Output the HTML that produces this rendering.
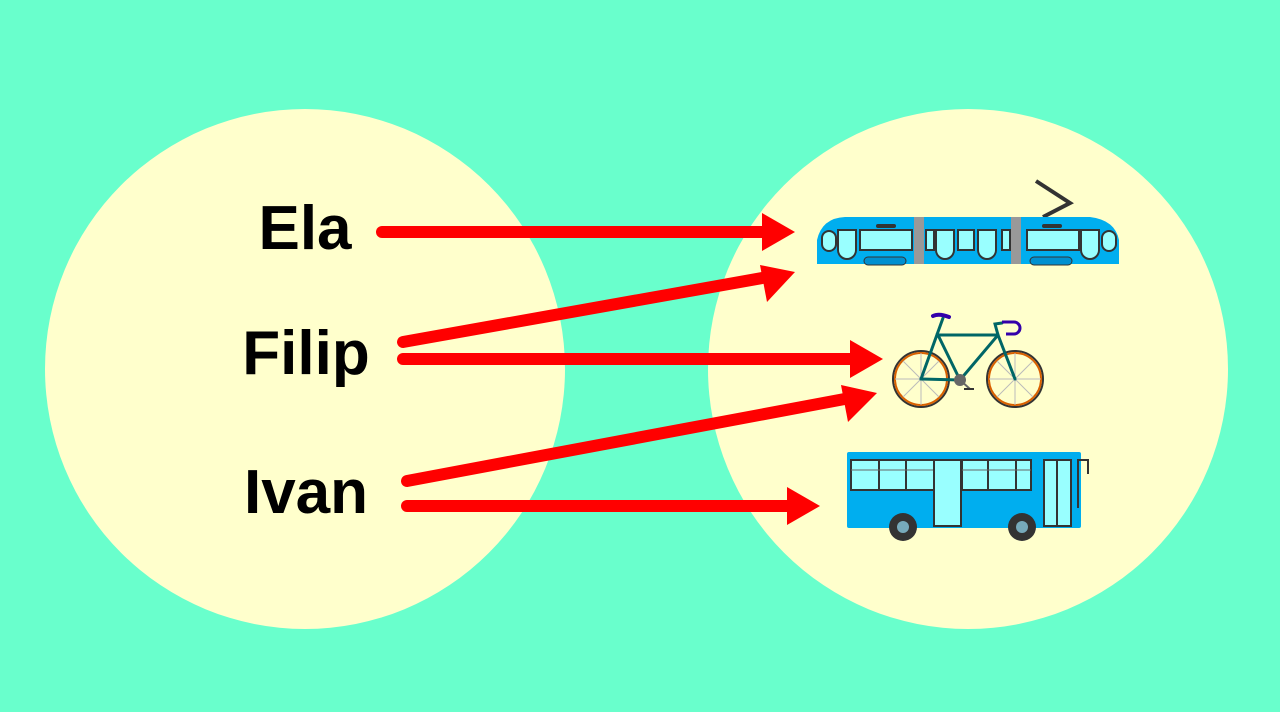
<!DOCTYPE html>
<html><head><style>body{margin:0;background:#69ffcc}svg{display:block}</style></head><body>
<svg width="1280" height="712" viewBox="0 0 1280 712" xmlns="http://www.w3.org/2000/svg">
<rect width="1280" height="712" fill="#69ffcc"/>
<circle cx="305" cy="369" r="260" fill="#ffffcc"/>
<circle cx="968" cy="369" r="260" fill="#ffffcc"/>
<g font-family="'Liberation Sans',sans-serif" font-weight="bold" font-size="62" fill="#000" text-anchor="middle">
<text x="305" y="249">Ela</text>
<text x="306" y="374">Filip</text>
<text x="306" y="513">Ivan</text>
</g>
<g stroke="#ff0000" stroke-width="12" stroke-linecap="round">
<line x1="382" y1="232" x2="768" y2="232"/>
<line x1="403" y1="342" x2="768" y2="277"/>
<line x1="403" y1="359" x2="856" y2="359"/>
<line x1="407" y1="481" x2="850" y2="398"/>
<line x1="407" y1="506" x2="792" y2="506"/>
</g>
<g fill="#ff0000">
<polygon points="795,232 762,213 762,251"/>
<polygon points="795,272 760,265 767,302"/>
<polygon points="883,359 850,340 850,378"/>
<polygon points="877,393 841,385 848,422"/>
<polygon points="820,506 787,487 787,525"/>
</g>
<!-- tram -->
<g>
<polyline points="1036,181 1070,203 1043,217" fill="none" stroke="#333" stroke-width="4"/>
<path d="M817,264 L817,240 Q822,218 845,217 L1090,217 Q1115,220 1119,240 L1119,264 Z" fill="#00aeef"/>
<g fill="#99ffff" stroke="#333" stroke-width="2">
<rect x="822" y="231" width="14" height="20" rx="7"/>
<path d="M838,230 h18 v20 a9,9 0 0 1 -18,0 z"/>
<rect x="860" y="230" width="52" height="20"/>
<rect x="926" y="230" width="8" height="20"/>
<path d="M936,230 h18 v20 a9,9 0 0 1 -18,0 z"/>
<rect x="958" y="230" width="16" height="20"/>
<path d="M978,230 h18 v20 a9,9 0 0 1 -18,0 z"/>
<rect x="1002" y="230" width="8" height="20"/>
<rect x="1027" y="230" width="52" height="20"/>
<path d="M1081,230 h18 v20 a9,9 0 0 1 -18,0 z"/>
<rect x="1102" y="231" width="14" height="20" rx="7"/>
</g>
<rect x="914" y="217" width="10" height="47" fill="#999"/>
<rect x="1011" y="217" width="10" height="47" fill="#999"/>
<rect x="876" y="224" width="20" height="4" rx="2" fill="#333"/>
<rect x="1042" y="224" width="20" height="4" rx="2" fill="#333"/>
<rect x="864" y="257" width="42" height="8" rx="4" fill="#0090d0" stroke="#333" stroke-width="1"/>
<rect x="1030" y="257" width="42" height="8" rx="4" fill="#0090d0" stroke="#333" stroke-width="1"/>
</g>
<!-- bike -->
<g>
<circle cx="921" cy="379" r="28" fill="none" stroke="#333" stroke-width="2"/>
<circle cx="921" cy="379" r="26" fill="none" stroke="#d86000" stroke-width="2"/>
<circle cx="1015" cy="379" r="28" fill="none" stroke="#333" stroke-width="2"/>
<circle cx="1015" cy="379" r="26" fill="none" stroke="#d86000" stroke-width="2"/>
<g stroke="#bbb" stroke-width="1">
<line x1="921" y1="353" x2="921" y2="405"/><line x1="895" y1="379" x2="947" y2="379"/>
<line x1="903" y1="361" x2="939" y2="397"/><line x1="939" y1="361" x2="903" y2="397"/>
<line x1="1015" y1="353" x2="1015" y2="405"/><line x1="989" y1="379" x2="1041" y2="379"/>
<line x1="997" y1="361" x2="1033" y2="397"/><line x1="1033" y1="361" x2="997" y2="397"/>
</g>
<g stroke="#006666" stroke-width="3" fill="none" stroke-linecap="round">
<polyline points="921,379 943,318"/>
<polyline points="921,379 960,380 998,335 1015,379"/>
<polyline points="960,380 938,335 998,335"/>
<polyline points="998,335 995,324 1002,323"/>
</g>
<path d="M1002,322 h12 a6,6 0 0 1 0,12 h-8" fill="none" stroke="#3300aa" stroke-width="3"/>
<path d="M933,316 q6,-3 16,1" stroke="#3300aa" stroke-width="4" fill="none" stroke-linecap="round"/>
<circle cx="960" cy="380" r="6" fill="#666"/>
<line x1="960" y1="380" x2="970" y2="389" stroke="#666" stroke-width="2"/>
<rect x="964" y="388" width="10" height="2" fill="#333"/>
</g>
<!-- bus -->
<g>
<rect x="847" y="452" width="234" height="76" rx="2" fill="#00aeef"/>
<rect x="851" y="460" width="180" height="30" fill="#99ffff" stroke="#333" stroke-width="2"/>
<g stroke="#333" stroke-width="2">
<line x1="879" y1="460" x2="879" y2="490"/><line x1="906" y1="460" x2="906" y2="490"/>
<line x1="962" y1="460" x2="962" y2="490"/><line x1="988" y1="460" x2="988" y2="490"/><line x1="1016" y1="460" x2="1016" y2="490"/>
</g>
<line x1="851" y1="470" x2="1031" y2="470" stroke="#666" stroke-width="1"/>
<rect x="934" y="460" width="27" height="66" fill="#99ffff" stroke="#333" stroke-width="2"/>
<rect x="1044" y="460" width="27" height="66" fill="#99ffff" stroke="#333" stroke-width="2"/>
<line x1="1057" y1="460" x2="1057" y2="526" stroke="#333" stroke-width="2"/>
<path d="M1078,508 v-48 h10 v14" fill="none" stroke="#333" stroke-width="2"/>
<circle cx="903" cy="527" r="14" fill="#333"/><circle cx="903" cy="527" r="6" fill="#7ab"/>
<circle cx="1022" cy="527" r="14" fill="#333"/><circle cx="1022" cy="527" r="6" fill="#7ab"/>
</g>
</svg>
</body></html>
